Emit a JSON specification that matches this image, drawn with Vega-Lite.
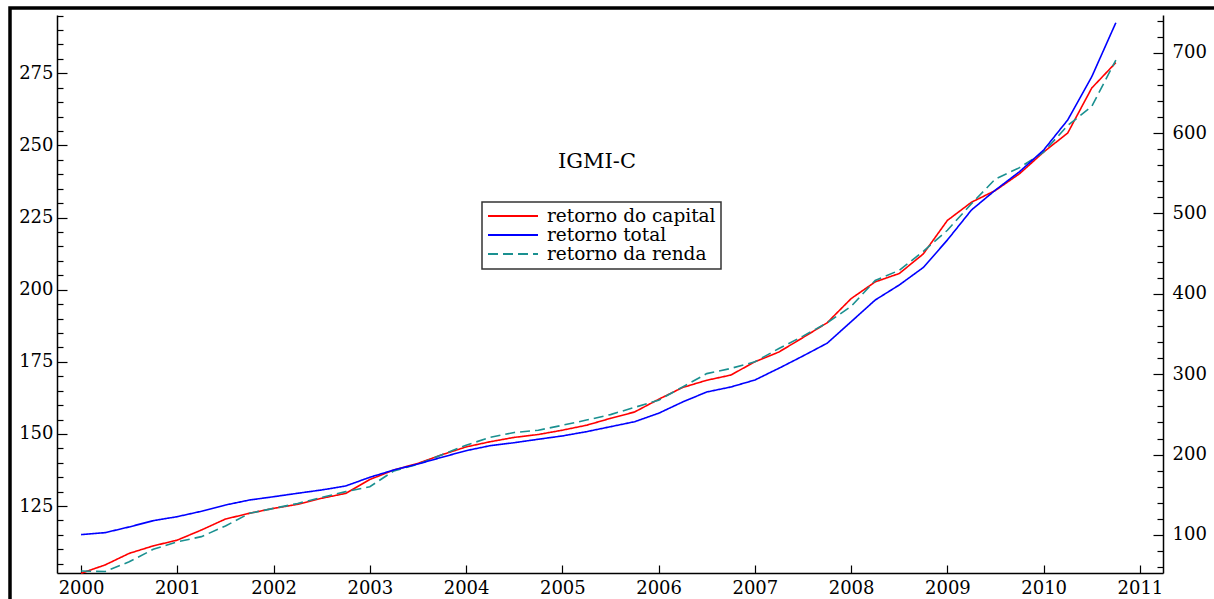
{
  "$schema": "https://vega.github.io/schema/vega-lite/v6.json",
  "width": 1209,
  "height": 596,
  "autosize": {"type": "none"},
  "padding": {"left": 10, "top": 8, "right": -5, "bottom": -5},
  "background": "white",
  "title": {
    "text": "Gráfico 1: Série histórica IGMI-C.",
    "anchor": "start",
    "frame": "bounds",
    "offset": 3,
    "baseline": "alphabetic",
    "font": "Liberation Serif",
    "fontSize": 19,
    "fontWeight": "bold",
    "color": "black"
  },
  "datasets": {
    "indices": [
      {"t": 2000.00, "serie": "retorno do capital", "v": 101.7},
      {"t": 2000.25, "serie": "retorno do capital", "v": 104.6},
      {"t": 2000.50, "serie": "retorno do capital", "v": 108.6},
      {"t": 2000.75, "serie": "retorno do capital", "v": 111.2},
      {"t": 2001.00, "serie": "retorno do capital", "v": 113.2},
      {"t": 2001.25, "serie": "retorno do capital", "v": 116.7},
      {"t": 2001.50, "serie": "retorno do capital", "v": 120.5},
      {"t": 2001.75, "serie": "retorno do capital", "v": 122.5},
      {"t": 2002.00, "serie": "retorno do capital", "v": 124.2},
      {"t": 2002.25, "serie": "retorno do capital", "v": 125.6},
      {"t": 2002.50, "serie": "retorno do capital", "v": 127.7},
      {"t": 2002.75, "serie": "retorno do capital", "v": 129.4},
      {"t": 2003.00, "serie": "retorno do capital", "v": 134.2},
      {"t": 2003.25, "serie": "retorno do capital", "v": 137.5},
      {"t": 2003.50, "serie": "retorno do capital", "v": 139.8},
      {"t": 2003.75, "serie": "retorno do capital", "v": 142.8},
      {"t": 2004.00, "serie": "retorno do capital", "v": 145.5},
      {"t": 2004.25, "serie": "retorno do capital", "v": 147.3},
      {"t": 2004.50, "serie": "retorno do capital", "v": 148.8},
      {"t": 2004.75, "serie": "retorno do capital", "v": 149.8},
      {"t": 2005.00, "serie": "retorno do capital", "v": 151.3},
      {"t": 2005.25, "serie": "retorno do capital", "v": 153.0},
      {"t": 2005.50, "serie": "retorno do capital", "v": 155.4},
      {"t": 2005.75, "serie": "retorno do capital", "v": 157.6},
      {"t": 2006.00, "serie": "retorno do capital", "v": 162.0},
      {"t": 2006.25, "serie": "retorno do capital", "v": 166.1},
      {"t": 2006.50, "serie": "retorno do capital", "v": 168.6},
      {"t": 2006.75, "serie": "retorno do capital", "v": 170.4},
      {"t": 2007.00, "serie": "retorno do capital", "v": 175.0},
      {"t": 2007.25, "serie": "retorno do capital", "v": 178.4},
      {"t": 2007.50, "serie": "retorno do capital", "v": 183.4},
      {"t": 2007.75, "serie": "retorno do capital", "v": 188.5},
      {"t": 2008.00, "serie": "retorno do capital", "v": 196.9},
      {"t": 2008.25, "serie": "retorno do capital", "v": 202.7},
      {"t": 2008.50, "serie": "retorno do capital", "v": 205.6},
      {"t": 2008.75, "serie": "retorno do capital", "v": 212.4},
      {"t": 2009.00, "serie": "retorno do capital", "v": 224.0},
      {"t": 2009.25, "serie": "retorno do capital", "v": 230.3},
      {"t": 2009.50, "serie": "retorno do capital", "v": 234.4},
      {"t": 2009.75, "serie": "retorno do capital", "v": 240.2},
      {"t": 2010.00, "serie": "retorno do capital", "v": 247.7},
      {"t": 2010.25, "serie": "retorno do capital", "v": 254.3},
      {"t": 2010.50, "serie": "retorno do capital", "v": 269.9},
      {"t": 2010.75, "serie": "retorno do capital", "v": 278.7},

      {"t": 2000.00, "serie": "retorno da renda", "v": 102.5},
      {"t": 2000.25, "serie": "retorno da renda", "v": 102.3},
      {"t": 2000.50, "serie": "retorno da renda", "v": 105.7},
      {"t": 2000.75, "serie": "retorno da renda", "v": 110.0},
      {"t": 2001.00, "serie": "retorno da renda", "v": 112.6},
      {"t": 2001.25, "serie": "retorno da renda", "v": 114.4},
      {"t": 2001.50, "serie": "retorno da renda", "v": 118.1},
      {"t": 2001.75, "serie": "retorno da renda", "v": 122.5},
      {"t": 2002.00, "serie": "retorno da renda", "v": 124.2},
      {"t": 2002.25, "serie": "retorno da renda", "v": 125.9},
      {"t": 2002.50, "serie": "retorno da renda", "v": 128.0},
      {"t": 2002.75, "serie": "retorno da renda", "v": 130.0},
      {"t": 2003.00, "serie": "retorno da renda", "v": 131.7},
      {"t": 2003.25, "serie": "retorno da renda", "v": 137.2},
      {"t": 2003.50, "serie": "retorno da renda", "v": 139.5},
      {"t": 2003.75, "serie": "retorno da renda", "v": 142.8},
      {"t": 2004.00, "serie": "retorno da renda", "v": 146.1},
      {"t": 2004.25, "serie": "retorno da renda", "v": 148.8},
      {"t": 2004.50, "serie": "retorno da renda", "v": 150.5},
      {"t": 2004.75, "serie": "retorno da renda", "v": 151.3},
      {"t": 2005.00, "serie": "retorno da renda", "v": 153.0},
      {"t": 2005.25, "serie": "retorno da renda", "v": 154.8},
      {"t": 2005.50, "serie": "retorno da renda", "v": 156.7},
      {"t": 2005.75, "serie": "retorno da renda", "v": 159.2},
      {"t": 2006.00, "serie": "retorno da renda", "v": 161.7},
      {"t": 2006.25, "serie": "retorno da renda", "v": 166.3},
      {"t": 2006.50, "serie": "retorno da renda", "v": 170.9},
      {"t": 2006.75, "serie": "retorno da renda", "v": 172.7},
      {"t": 2007.00, "serie": "retorno da renda", "v": 175.0},
      {"t": 2007.25, "serie": "retorno da renda", "v": 179.6},
      {"t": 2007.50, "serie": "retorno da renda", "v": 183.9},
      {"t": 2007.75, "serie": "retorno da renda", "v": 188.5},
      {"t": 2008.00, "serie": "retorno da renda", "v": 194.2},
      {"t": 2008.25, "serie": "retorno da renda", "v": 203.2},
      {"t": 2008.50, "serie": "retorno da renda", "v": 206.7},
      {"t": 2008.75, "serie": "retorno da renda", "v": 213.3},
      {"t": 2009.00, "serie": "retorno da renda", "v": 220.6},
      {"t": 2009.25, "serie": "retorno da renda", "v": 229.8},
      {"t": 2009.50, "serie": "retorno da renda", "v": 238.4},
      {"t": 2009.75, "serie": "retorno da renda", "v": 242.3},
      {"t": 2010.00, "serie": "retorno da renda", "v": 247.7},
      {"t": 2010.25, "serie": "retorno da renda", "v": 256.9},
      {"t": 2010.50, "serie": "retorno da renda", "v": 263.5},
      {"t": 2010.75, "serie": "retorno da renda", "v": 279.6},

      {"t": 2000.00, "serie": "retorno total", "v": 100.4},
      {"t": 2000.25, "serie": "retorno total", "v": 102.9},
      {"t": 2000.50, "serie": "retorno total", "v": 110.0},
      {"t": 2000.75, "serie": "retorno total", "v": 117.8},
      {"t": 2001.00, "serie": "retorno total", "v": 122.8},
      {"t": 2001.25, "serie": "retorno total", "v": 129.5},
      {"t": 2001.50, "serie": "retorno total", "v": 137.3},
      {"t": 2001.75, "serie": "retorno total", "v": 143.5},
      {"t": 2002.00, "serie": "retorno total", "v": 147.6},
      {"t": 2002.25, "serie": "retorno total", "v": 151.9},
      {"t": 2002.50, "serie": "retorno total", "v": 156.0},
      {"t": 2002.75, "serie": "retorno total", "v": 161.0},
      {"t": 2003.00, "serie": "retorno total", "v": 171.8},
      {"t": 2003.25, "serie": "retorno total", "v": 180.9},
      {"t": 2003.50, "serie": "retorno total", "v": 188.3},
      {"t": 2003.75, "serie": "retorno total", "v": 196.7},
      {"t": 2004.00, "serie": "retorno total", "v": 204.9},
      {"t": 2004.25, "serie": "retorno total", "v": 211.1},
      {"t": 2004.50, "serie": "retorno total", "v": 214.8},
      {"t": 2004.75, "serie": "retorno total", "v": 219.1},
      {"t": 2005.00, "serie": "retorno total", "v": 223.2},
      {"t": 2005.25, "serie": "retorno total", "v": 228.5},
      {"t": 2005.50, "serie": "retorno total", "v": 234.7},
      {"t": 2005.75, "serie": "retorno total", "v": 240.9},
      {"t": 2006.00, "serie": "retorno total", "v": 251.4},
      {"t": 2006.25, "serie": "retorno total", "v": 265.5},
      {"t": 2006.50, "serie": "retorno total", "v": 277.9},
      {"t": 2006.75, "serie": "retorno total", "v": 284.1},
      {"t": 2007.00, "serie": "retorno total", "v": 292.8},
      {"t": 2007.25, "serie": "retorno total", "v": 307.4},
      {"t": 2007.50, "serie": "retorno total", "v": 322.7},
      {"t": 2007.75, "serie": "retorno total", "v": 338.5},
      {"t": 2008.00, "serie": "retorno total", "v": 365.3},
      {"t": 2008.25, "serie": "retorno total", "v": 392.3},
      {"t": 2008.50, "serie": "retorno total", "v": 411.0},
      {"t": 2008.75, "serie": "retorno total", "v": 432.8},
      {"t": 2009.00, "serie": "retorno total", "v": 467.0},
      {"t": 2009.25, "serie": "retorno total", "v": 504.3},
      {"t": 2009.50, "serie": "retorno total", "v": 529.2},
      {"t": 2009.75, "serie": "retorno total", "v": 552.0},
      {"t": 2010.00, "serie": "retorno total", "v": 578.9},
      {"t": 2010.25, "serie": "retorno total", "v": 616.3},
      {"t": 2010.50, "serie": "retorno total", "v": 670.1},
      {"t": 2010.75, "serie": "retorno total", "v": 737.3}
    ],
    "rotulo": [
      {"nome": "IGMI-C", "t": 2005.36, "v": 244.1}
    ]
  },
  "encoding": {
    "x": {
      "field": "t",
      "type": "quantitative",
      "scale": {"domain": [1999.75, 2011.24], "range": [47, 1153], "nice": false, "zero": false},
      "axis": {
        "orient": "bottom",
        "offset": -31,
        "title": null,
        "grid": false,
        "values": [2000, 2000.25, 2000.5, 2000.75, 2001, 2001.25, 2001.5, 2001.75, 2002, 2002.25, 2002.5, 2002.75, 2003, 2003.25, 2003.5, 2003.75, 2004, 2004.25, 2004.5, 2004.75, 2005, 2005.25, 2005.5, 2005.75, 2006, 2006.25, 2006.5, 2006.75, 2007, 2007.25, 2007.5, 2007.75, 2008, 2008.25, 2008.5, 2008.75, 2009, 2009.25, 2009.5, 2009.75, 2010, 2010.25, 2010.5, 2010.75, 2011],
        "format": "d",
        "labelExpr": "datum.value % 1 === 0 ? datum.label : ''",
        "tickSize": {"condition": {"test": "datum.value % 1 === 0", "value": -8}, "value": -5},
        "labelPadding": 14,
        "labelFlush": false,
        "labelOverlap": false
      }
    }
  },
  "layer": [
    {
      "data": {"name": "indices"},
      "transform": [{"filter": "datum.serie !== 'retorno total'"}],
      "mark": {"type": "line", "strokeWidth": 1.6},
      "encoding": {
        "y": {
          "field": "v",
          "type": "quantitative",
          "scale": {"domain": [101.8, 295.2], "range": [565, 7], "nice": false, "zero": false},
          "axis": {
            "orient": "left",
            "offset": -47,
            "title": null,
            "grid": false,
            "values": [105, 110, 115, 120, 125, 130, 135, 140, 145, 150, 155, 160, 165, 170, 175, 180, 185, 190, 195, 200, 205, 210, 215, 220, 225, 230, 235, 240, 245, 250, 255, 260, 265, 270, 275, 280, 285, 290, 295],
            "labelExpr": "datum.value % 25 === 0 ? datum.label : ''",
            "tickSize": {"condition": {"test": "datum.value % 25 === 0", "value": -10}, "value": -6},
            "labelPadding": 14,
            "labelOverlap": false
          }
        },
        "color": {
          "field": "serie",
          "type": "nominal",
          "scale": {
            "domain": ["retorno do capital", "retorno total", "retorno da renda"],
            "range": ["#ff0000", "#0000ff", "#1a9090"]
          },
          "legend": {"title": null, "orient": "none", "legendX": 472, "legendY": 194}
        },
        "strokeDash": {
          "field": "serie",
          "type": "nominal",
          "scale": {
            "domain": ["retorno do capital", "retorno total", "retorno da renda"],
            "range": [[1, 0], [1, 0], [10, 5]]
          },
          "legend": {"title": null, "orient": "none", "legendX": 472, "legendY": 194}
        }
      }
    },
    {
      "data": {"name": "indices"},
      "transform": [{"filter": "datum.serie === 'retorno total'"}],
      "mark": {"type": "line", "strokeWidth": 1.6},
      "encoding": {
        "y": {
          "field": "v",
          "type": "quantitative",
          "scale": {"domain": [52.7, 746.9], "range": [565, 7], "nice": false, "zero": false},
          "axis": {
            "orient": "right",
            "offset": -56,
            "title": null,
            "grid": false,
            "values": [60, 80, 100, 120, 140, 160, 180, 200, 220, 240, 260, 280, 300, 320, 340, 360, 380, 400, 420, 440, 460, 480, 500, 520, 540, 560, 580, 600, 620, 640, 660, 680, 700, 720, 740],
            "labelExpr": "datum.value % 100 === 0 ? datum.label : ''",
            "tickSize": {"condition": {"test": "datum.value % 100 === 0", "value": -10}, "value": -6},
            "labelPadding": 19,
            "labelOverlap": false
          }
        },
        "color": {
          "field": "serie",
          "type": "nominal",
          "scale": {
            "domain": ["retorno do capital", "retorno total", "retorno da renda"],
            "range": ["#ff0000", "#0000ff", "#1a9090"]
          },
          "legend": {"title": null, "orient": "none", "legendX": 472, "legendY": 194}
        },
        "strokeDash": {
          "field": "serie",
          "type": "nominal",
          "scale": {
            "domain": ["retorno do capital", "retorno total", "retorno da renda"],
            "range": [[1, 0], [1, 0], [10, 5]]
          },
          "legend": {"title": null, "orient": "none", "legendX": 472, "legendY": 194}
        }
      }
    },
    {
      "data": {"name": "rotulo"},
      "mark": {
        "type": "text",
        "font": "DejaVu Serif",
        "fontSize": 21,
        "fill": "black",
        "align": "center",
        "baseline": "middle"
      },
      "encoding": {
        "text": {"field": "nome"},
        "y": {
          "field": "v",
          "type": "quantitative",
          "scale": {"domain": [101.8, 295.2], "range": [565, 7], "nice": false, "zero": false},
          "axis": null
        }
      }
    }
  ],
  "resolve": {"scale": {"y": "independent"}},
  "config": {
    "view": {"stroke": "black", "strokeWidth": 3.5, "fill": "white"},
    "axis": {
      "domainColor": "black",
      "domainWidth": 1.5,
      "tickColor": "black",
      "tickWidth": 1.2,
      "labelFont": "DejaVu Serif",
      "labelFontSize": 18,
      "labelColor": "black"
    },
    "legend": {
      "symbolType": "stroke",
      "symbolSize": 2500,
      "symbolStrokeWidth": 2,
      "clipHeight": 18,
      "rowPadding": 0,
      "labelFont": "DejaVu Serif",
      "labelFontSize": 18.5,
      "labelColor": "black",
      "labelLimit": 400,
      "labelOffset": 8,
      "padding": 5,
      "strokeColor": "#333333",
      "strokeWidth": 1.5,
      "fillColor": "white"
    }
  }
}
